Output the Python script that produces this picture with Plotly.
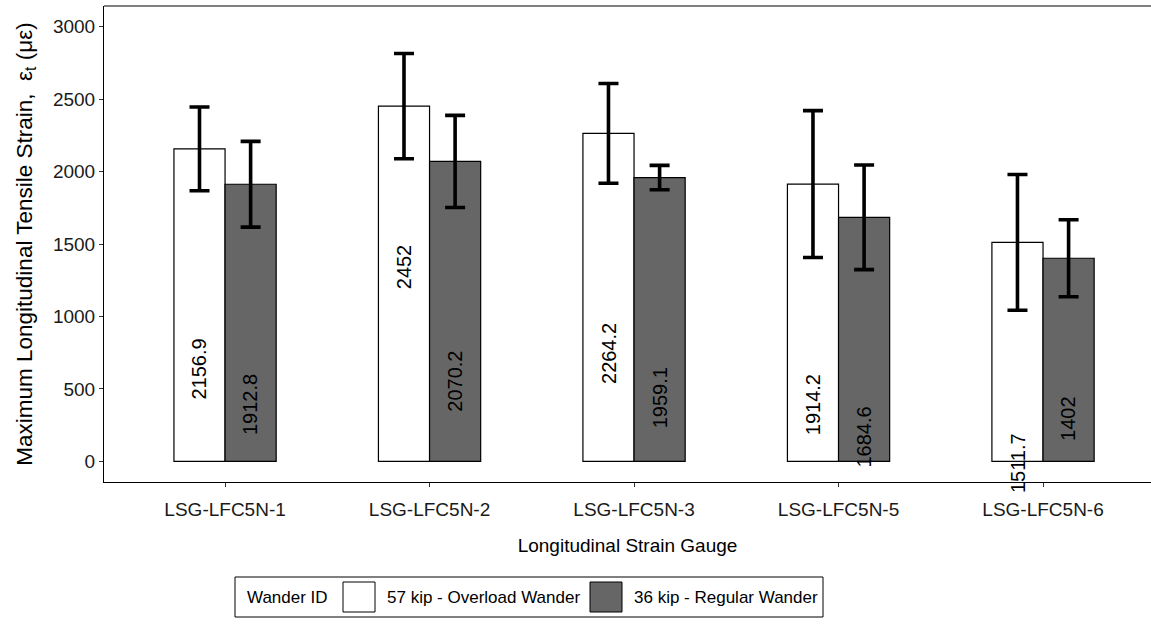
import plotly.graph_objects as go

# Strain gauges and the two loading cases
gauges = ["LSG-LFC5N-1", "LSG-LFC5N-2", "LSG-LFC5N-3", "LSG-LFC5N-5", "LSG-LFC5N-6"]
series_names = ["57 kip - Overload Wander", "36 kip - Regular Wander"]

overload_mean = [2156.9, 2452.0, 2264.2, 1914.2, 1511.7]
overload_sd = [289, 363, 344, 507, 468]

regular_mean = [1912.8, 2070.2, 1959.1, 1684.6, 1402.0]
regular_sd = [296, 318, 84, 361, 266]

fills = ["#ffffff", "#666666"]
FONT = "Liberation Sans, Arial, sans-serif"

W, H = 1151, 630
M_L, M_R, M_T, M_B = 104, 0, 6, 148

fig = go.Figure()
for name, means, sds, fill in zip(series_names,
                                   [overload_mean, regular_mean],
                                   [overload_sd, regular_sd], fills):
    fig.add_trace(go.Bar(
        name=name, x=gauges, y=means,
        marker=dict(color=fill, line=dict(color="#000000", width=1.2)),
        error_y=dict(type="data", array=sds, visible=True,
                     color="#000000", thickness=3.6, width=10),
        showlegend=False,
    ))

# Rotated value labels, pushed down from the bar top by ~3.6 text lengths
LABEL_SIZE = 20
def text_len(s, size):
    return sum((0.278 if c == "." else 0.556) for c in s) * size

for k, means in enumerate([overload_mean, regular_mean]):
    offset = -0.125 if k == 0 else 0.125
    for i, v in enumerate(means):
        label = f"{v:g}"
        fig.add_annotation(
            x=i + offset, y=v, xref="x", yref="y",
            text=label, textangle=-90, showarrow=False,
            xanchor="center", yanchor="middle",
            yshift=-3.6 * text_len(label, LABEL_SIZE),
            font=dict(family=FONT, size=LABEL_SIZE, color="#000000"),
        )

fig.update_layout(
    width=W, height=H,
    margin=dict(l=M_L, r=M_R, t=M_T, b=M_B),
    paper_bgcolor="white", plot_bgcolor="white",
    barmode="group", bargap=0.5, bargroupgap=0,
    font=dict(family=FONT, size=18, color="#000000"),
    xaxis=dict(
        type="category", range=[-0.592, 4.528],
        showline=True, linecolor="#000000", linewidth=1,
        ticks="outside", ticklen=4, tickcolor="#333333",
        ticklabelstandoff=6,
        tickfont=dict(size=19, color="#1a1a1a"),
        showgrid=False, zeroline=False,
        title=dict(text="Longitudinal Strain Gauge", standoff=19,
                   font=dict(size=19, color="#000000")),
    ),
    yaxis=dict(
        range=[-142, 3143],
        tickvals=[0, 500, 1000, 1500, 2000, 2500, 3000],
        showline=True, linecolor="#000000", linewidth=1,
        ticks="outside", ticklen=4, tickcolor="#333333",
        tickfont=dict(size=19, color="#1a1a1a"),
        showgrid=False, zeroline=False,
        title=dict(text="Maximum Longitudinal Tensile Strain,  ε<sub>t</sub> (με)",
                   standoff=14, font=dict(size=22.5, color="#000000")),
    ),
)

# Top border of the panel
fig.add_shape(type="line", xref="paper", yref="paper", x0=0, x1=1, y0=1, y1=1,
              line=dict(color="#000000", width=1))

# Legend box drawn beneath the axis
PW = W - M_L - M_R
PH = H - M_T - M_B
def px(x):
    return (x - M_L) / PW
def py(y):
    return (H - M_B - y) / PH

LEG_SIZE = 17
fig.add_shape(type="rect", xref="paper", yref="paper",
              x0=px(235), x1=px(823), y0=py(577), y1=py(617),
              line=dict(color="#000000", width=1), fillcolor="white")
fig.add_annotation(xref="paper", yref="paper", x=px(245), y=py(597),
                   text="Wander ID", showarrow=False, xanchor="left", yanchor="middle",
                   font=dict(family=FONT, size=LEG_SIZE, color="#000000"))
key_left = [343, 590]
text_left = [385, 632]
for name, fill, kx, tx in zip(series_names, fills, key_left, text_left):
    fig.add_shape(type="rect", xref="paper", yref="paper",
                  x0=px(kx), x1=px(kx + 32), y0=py(582), y1=py(612),
                  line=dict(color="#000000", width=1), fillcolor=fill)
    fig.add_annotation(xref="paper", yref="paper", x=px(tx), y=py(597),
                       text=name, showarrow=False, xanchor="left", yanchor="middle",
                       font=dict(family=FONT, size=LEG_SIZE, color="#000000"))

fig.write_html("out.html")
